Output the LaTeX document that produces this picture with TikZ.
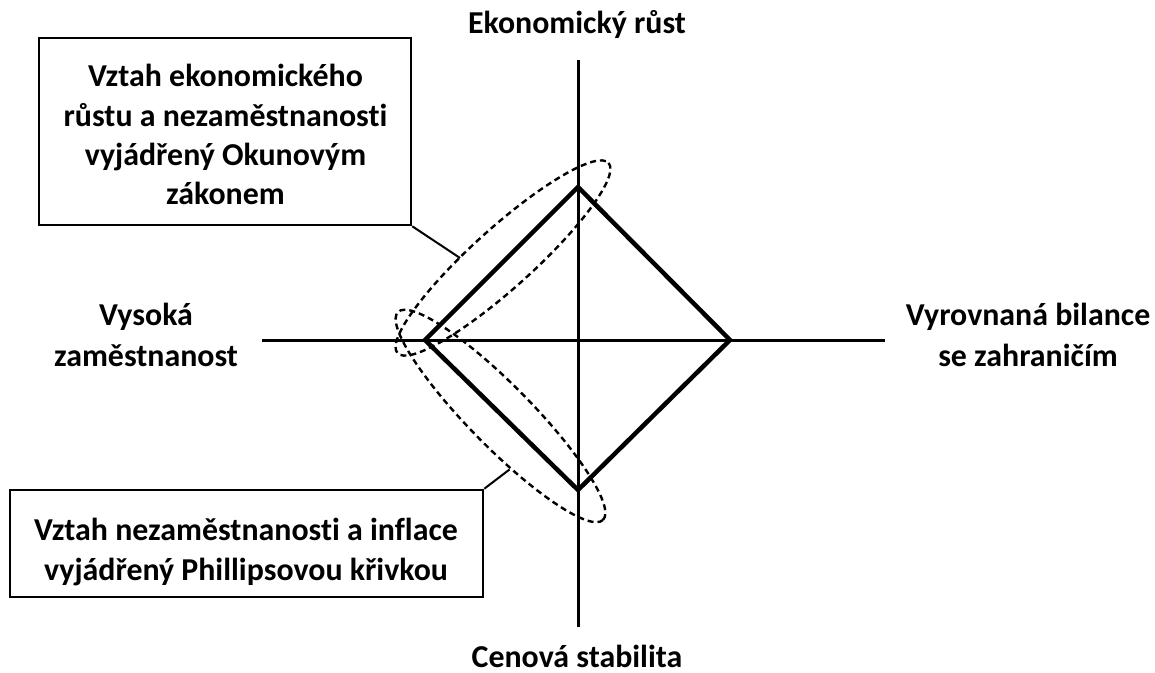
\documentclass[tikz,border=0pt]{standalone}
\usepackage{fontspec}
\setmainfont{Carlito}[Ligatures=NoCommon]
\begin{document}
\begin{tikzpicture}[x=1bp,y=-1bp,
  lbl/.style={font=\bfseries\fontsize{32}{41.5}\selectfont, align=center, inner sep=0pt, anchor=base},
  boxtext/.style={font=\bfseries\fontsize{32}{39.5}\selectfont, align=center, inner sep=0pt, anchor=base},
  axisline/.style={line width=3bp},
  diam/.style={line width=4.5bp, line join=miter},
  callout/.style={draw, line width=2.5bp, inner sep=0pt},
  leader/.style={line width=2bp},
  ring/.style={line width=2.4bp, dash pattern=on 6bp off 4bp}]
\useasboundingbox (0,0) rectangle (1155,673);
% axes
\coordinate (ytop) at (578,60);
\coordinate (ybot) at (578,627);
\coordinate (xl) at (262,340);
\coordinate (xr) at (885,340);
\draw[axisline] (ytop) -- (ybot);
\draw[axisline] (xl) -- (xr);
% diamond
\coordinate (dt) at (578,187);
\coordinate (dr) at (730,340);
\coordinate (db) at (578,490);
\coordinate (dl) at (425,340);
\draw[diam] (dt) -- (dr) -- (db) -- (dl) -- cycle;
% ellipses
\coordinate (ce1) at (503,258);
\coordinate (ce2) at (500.5,416);
\draw[ring, rotate around={42:(ce1)}] (ce1) ellipse [x radius=142, y radius=30];
\draw[ring, rotate around={-45.4:(ce2)}] (ce2) ellipse [x radius=146, y radius=31];
\coordinate (e1) at (460,258);
\coordinate (e2) at (509.5,469.5);
% axis labels (base = last line's baseline)
\node[lbl] (growth) at (577,33.3) {Ekonomický růst};
\node[lbl] (employ) at (146,366.7) {Vysoká\\zaměstnanost};
\node[lbl] (balance) at (1028,366.7) {Vyrovnaná bilance\\se zahraničím};
\node[lbl] (prices) at (577,667) {Cenová stabilita};
% callouts
\node[callout, minimum width=372bp, minimum height=187bp] (okunbox) at (225,131.5) {};
\node[boxtext] (okun) at (225.5,205)
  {Vztah ekonomického\\růstu a nezaměstnanosti\\vyjádřený Okunovým\\zákonem};
\node[callout, minimum width=473bp, minimum height=107bp] (philbox) at (246.5,543.5) {};
\node[boxtext] (phil) at (246,580)
  {Vztah nezaměstnanosti a inflace\\vyjádřený Phillipsovou křivkou};
\draw[leader] (okunbox.south east) -- (e1);
\draw[leader] (philbox.north east) -- (e2);
\end{tikzpicture}
\end{document}
